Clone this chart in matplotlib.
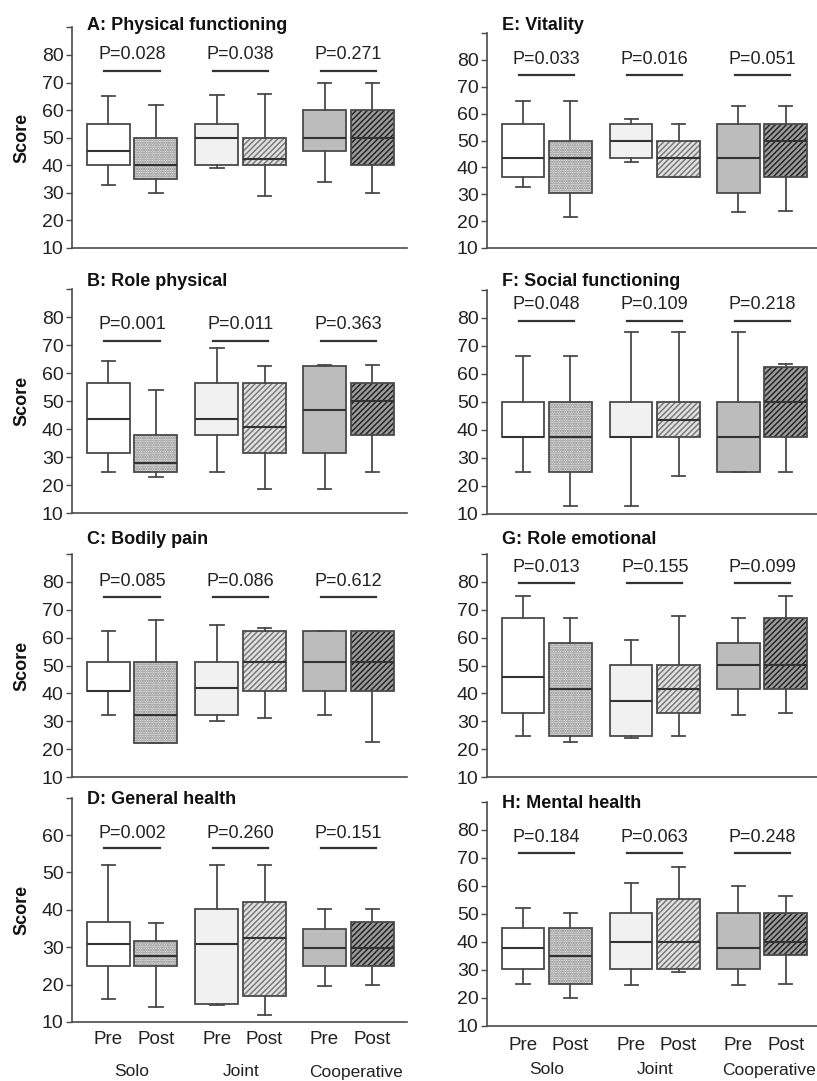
import matplotlib.pyplot as plt
import numpy as np

plt.rcParams['font.family'] = ['Liberation Sans', 'DejaVu Sans']
plt.rcParams['hatch.linewidth'] = 1.1

groups = ['Solo', 'Joint', 'Cooperative']
phases = ['Pre', 'Post'] * 3
positions = [1, 2, 3.28, 4.28, 5.54, 6.54]

# each panel: rows = low whisker, Q1, median, Q3, high whisker
# columns = Solo pre/post, Joint pre/post, Cooperative pre/post
physical = [[33, 30, 39, 29, 34, 30],
            [40, 35, 40, 40, 45, 40],
            [45, 40, 50, 42.2, 50, 50],
            [55, 50, 55, 50, 60, 60],
            [65, 61.7, 65.5, 65.9, 70, 70]]
role_physical = [[24.8, 22.7, 24.8, 18.7, 18.7, 24.8],
                 [31.6, 24.8, 37.9, 31.6, 31.6, 37.9],
                 [43.7, 28, 43.7, 40.6, 46.7, 50],
                 [56.3, 37.9, 56.3, 56.3, 62.6, 56.3],
                 [64.2, 54.1, 69.1, 62.6, 62.8, 62.8]]
bodily_pain = [[32.3, 22.2, 30.1, 31.1, 32.3, 22.4],
               [40.9, 22.2, 32.3, 40.9, 40.9, 40.9],
               [40.9, 32.3, 42.1, 51.4, 51.4, 51.4],
               [51.4, 51.4, 51.4, 62.4, 62.4, 62.4],
               [62.4, 66.3, 64.7, 63.3, 62.4, 62.4]]
general_health = [[16.1, 14, 14.5, 12, 19.6, 20],
                  [25, 25, 14.9, 16.9, 25, 25],
                  [30.8, 27.7, 30.8, 32.5, 29.9, 29.9],
                  [36.8, 31.6, 40.1, 42.1, 35, 36.8],
                  [52, 36.5, 52, 52, 40.1, 40.1]]
vitality = [[32.7, 21.5, 42.1, 36.6, 23.4, 23.9],
            [36.6, 30.4, 43.5, 36.6, 30.4, 36.6],
            [43.5, 43.5, 49.9, 43.5, 43.5, 49.9],
            [56.1, 49.7, 56.1, 49.9, 56.1, 56.1],
            [64.8, 64.8, 58.1, 56.1, 62.7, 62.7]]
social = [[25, 12.7, 12.7, 23.7, 25, 25],
          [37.5, 25, 37.5, 37.5, 25, 37.5],
          [37.5, 37.5, 37.5, 43.7, 37.5, 50],
          [50, 50, 50, 50, 50, 62.5],
          [66.3, 66.3, 75, 75, 75, 63.5]]
role_emotional = [[24.8, 22.5, 23.9, 24.8, 32.3, 32.9],
                  [32.9, 24.8, 24.8, 32.9, 41.6, 41.6],
                  [46, 41.6, 37.3, 41.6, 50.2, 50.2],
                  [66.9, 58.2, 50.2, 50.2, 58.2, 66.9],
                  [74.8, 66.9, 59.3, 67.7, 66.9, 74.8]]
mental = [[25, 19.9, 24.6, 29.4, 24.6, 25],
          [30.2, 25, 30.2, 30.2, 30.2, 35.4],
          [37.7, 35.1, 39.9, 39.9, 37.7, 39.9],
          [44.9, 44.9, 50.2, 55.4, 50.2, 50.2],
          [52, 50.2, 61.2, 66.9, 60.1, 56.4]]

p_physical = ['0.028', '0.038', '0.271']
p_role_physical = ['0.001', '0.011', '0.363']
p_bodily_pain = ['0.085', '0.086', '0.612']
p_general_health = ['0.002', '0.260', '0.151']
p_vitality = ['0.033', '0.016', '0.051']
p_social = ['0.048', '0.109', '0.218']
p_role_emotional = ['0.013', '0.155', '0.099']
p_mental = ['0.184', '0.063', '0.248']

W, H = 817, 1081
# title, data, p-values, p line y, p text y, ymax, axes box in pixels (l, top, r, bottom), title y px,
# pixel y of Pre/Post and group labels (None for upper panels)
panels = [
    ('A: Physical functioning', physical, p_physical, 74.3, 80, 90, (72, 27.4, 407, 248), 25, None),
    ('B: Role physical', role_physical, p_role_physical, 71.4, 77.4, 90, (72, 289, 407, 513), 282, None),
    ('C: Bodily pain', bodily_pain, p_bodily_pain, 74.4, 80, 90, (72, 554, 407, 777), 539, None),
    ('D: General health', general_health, p_general_health, 56.6, 60.4, 70, (72, 797.6, 407, 1022), 800,
     (1040, 1072)),
    ('E: Vitality', vitality, p_vitality, 74.2, 80, 90, (487, 33, 817, 248), 25, None),
    ('F: Social functioning', social, p_social, 79, 84.8, 90, (487, 290, 817, 514), 281, None),
    ('G: Role emotional', role_emotional, p_role_emotional, 79.6, 85.1, 90, (487, 554, 817, 777), 539, None),
    ('H: Mental health', mental, p_mental, 71.7, 77.4, 90, (487, 802, 817, 1026), 803, (1045, 1070)),
]

faces = ['white', '#e6e6e6', '#f1f1f1', '#e2e2e2', '#bcbcbc', '#9c9c9c']
hatches = ['', '.......', '', '//////', '', '//////']
hatch_cols = ['white', '#808080', '#f1f1f1', '#7a7a7a', '#bcbcbc', '#262626']
edge = '#4a4a4a'

fig = plt.figure(figsize=(W / 100, H / 100), dpi=100)

for title, data, pvals, line_y, text_y, ymax, (l, t, r, b), title_y, xlab in panels:
    ax = fig.add_axes([l / W, 1 - b / H, (r - l) / W, (b - t) / H])
    lo, q1, med, q3, hi = [np.array(row, dtype=float) for row in data]

    bars = ax.bar(positions, q3 - q1, bottom=q1, width=0.9, color=faces,
                  linewidth=0, zorder=1)
    for patch, h, hc in zip(bars, hatches, hatch_cols):
        patch.set_hatch(h)
        patch.set_edgecolor(hc)

    stats = [dict(whislo=lo[i], q1=q1[i], med=med[i], q3=q3[i], whishi=hi[i], fliers=[])
             for i in range(6)]
    ax.bxp(stats, positions=positions, widths=0.9, capwidths=0.28, patch_artist=True,
           showfliers=False, manage_ticks=False,
           boxprops=dict(facecolor='none', edgecolor=edge, linewidth=1.3, zorder=3),
           medianprops=dict(color='#333333', linewidth=1.5, zorder=4),
           whiskerprops=dict(color=edge, linewidth=1.3),
           capprops=dict(color=edge, linewidth=1.3))

    for g in range(3):
        mid = (positions[2 * g] + positions[2 * g + 1]) / 2
        ax.plot([mid - 0.58, mid + 0.58], [line_y, line_y], color='#333333', lw=1.6)
        ax.text(mid, text_y, 'P=' + pvals[g], ha='center', va='center', fontsize=13,
                color='#222222')

    ax.set_xlim(0.24, 7.27 if l < 400 else 7.2)
    ax.set_ylim(10, ymax)
    ticks = np.arange(10, ymax + 1, 10)
    ax.set_yticks(ticks)
    ax.set_yticklabels([str(int(v)) for v in ticks[:-1]] + [''])
    ax.tick_params(axis='y', length=4, width=1, color=edge, labelsize=14, pad=2,
                   labelcolor='#222222')
    for s in ['top', 'right']:
        ax.spines[s].set_visible(False)
    for s in ['left', 'bottom']:
        ax.spines[s].set_color(edge)
        ax.spines[s].set_linewidth(1.2)
    ax.set_xticks([])

    if xlab:
        phase_y, group_y = xlab
        for pos, ph in zip(positions, phases):
            fig.text(ax.transData.transform((pos, 10))[0] / W, 1 - phase_y / H, ph,
                     ha='center', va='center', fontsize=13.5, color='#222222')
        for g in range(3):
            mid = (positions[2 * g] + positions[2 * g + 1]) / 2 + (0.15 if g == 2 else 0)
            fig.text(ax.transData.transform((mid, 10))[0] / W, 1 - group_y / H, groups[g],
                     ha='center', va='center', fontsize=12.5, color='#222222')

    fig.text((l + 15) / W, 1 - title_y / H, title, fontsize=13, fontweight='bold',
             ha='left', va='center', color='#111111')
    if l < 400:
        fig.text(22 / W, 1 - (t + b) / 2 / H, 'Score', rotation=90, fontsize=13,
                 fontweight='bold', ha='center', va='center', color='#111111')

fig.savefig('out.png', dpi=100)
